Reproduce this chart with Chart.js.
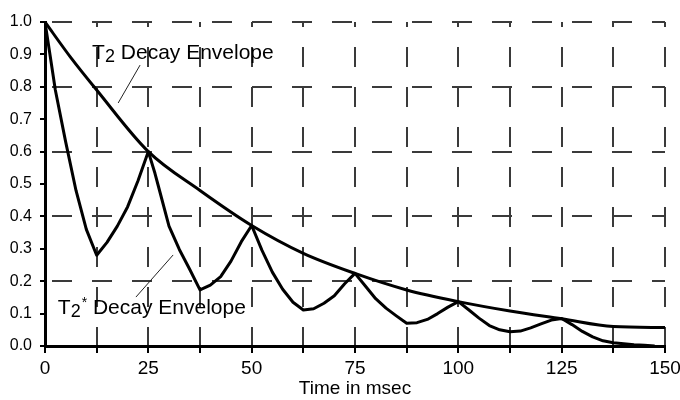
<!DOCTYPE html>
<html>
<head>
<meta charset="utf-8">
<script src="https://cdn.jsdelivr.net/npm/chart.js@4.4.1/dist/chart.umd.min.js"></script>
<style>
  html, body { margin: 0; padding: 0; background: #fff; }
</style>
</head>
<body>
<canvas id="decayChart" width="680" height="400"></canvas>
<script>
// T2 envelope
const envTime  = [0, 6.25, 12.5, 25, 37.5, 50, 62.5, 75, 87.5, 100, 112.5, 125, 137.5, 150];
const envValue = [1.0, 0.89, 0.79, 0.6, 0.48, 0.372, 0.286, 0.224, 0.173, 0.137, 0.108, 0.084, 0.06, 0.057];

// T2* signal (echo train)
const starTime  = [0, 1.2, 2.5, 5, 7.5, 10, 12.5, 15, 17.5, 20, 22.5, 25,
                   26.6, 27.5, 30, 32.5, 35, 37.5, 40, 42.5, 45, 47.5, 50,
                   52.5, 55, 57.5, 60, 62.5, 65, 67.5, 70, 72.5, 75,
                   77.5, 80, 82.5, 85, 87.5, 90, 92.5, 95, 97.5, 100,
                   102.5, 105, 107.5, 110, 112.5, 115, 117.5, 120, 122.5, 125,
                   127.5, 130, 132.5, 135, 137.5, 140, 142.5, 145, 147.5];
const starValue = [1.0, 0.9, 0.79, 0.63, 0.48, 0.36, 0.28, 0.32, 0.37, 0.43, 0.51, 0.6,
                   0.533, 0.49, 0.37, 0.298, 0.237, 0.173, 0.188, 0.214, 0.262, 0.322, 0.372,
                   0.295, 0.228, 0.175, 0.135, 0.111, 0.115, 0.132, 0.155, 0.192, 0.224,
                   0.185, 0.146, 0.117, 0.093, 0.07, 0.072, 0.082, 0.1, 0.12, 0.137,
                   0.112, 0.086, 0.063, 0.05, 0.044, 0.046, 0.056, 0.068, 0.08, 0.085,
                   0.066, 0.045, 0.028, 0.016, 0.01, 0.007, 0.004, 0.002, 0];

const xLabelTicks = [0, 25, 50, 75, 100, 125, 150];

// callout labels: text anchor and leader line, in data units
const labelNotes = [
  { star: false, at: [11.4, 0.904], from: [23.0, 0.867], to: [17.7, 0.75] },
  { star: true,  at: [3.1, 0.117],  from: [22.0, 0.151], to: [31.0, 0.281] }
];

const FONT = '"Liberation Sans", Arial, sans-serif';

const toPoints = (xs, ys) => xs.map((t, i) => ({ x: t, y: ys[i] }));

const labelPlugin = {
  id: 'decayLabels',
  afterDatasetsDraw(chart) {
    const { ctx } = chart;
    const xs = chart.scales.x;
    const ys = chart.scales.y;
    ctx.save();
    ctx.fillStyle = '#000';
    ctx.strokeStyle = '#222';
    ctx.lineWidth = 1;
    ctx.textBaseline = 'middle';
    ctx.textAlign = 'left';
    labelNotes.forEach(note => {
      ctx.beginPath();
      ctx.moveTo(xs.getPixelForValue(note.from[0]), ys.getPixelForValue(note.from[1]));
      ctx.lineTo(xs.getPixelForValue(note.to[0]), ys.getPixelForValue(note.to[1]));
      ctx.stroke();

      let px = xs.getPixelForValue(note.at[0]);
      const py = ys.getPixelForValue(note.at[1]);
      ctx.font = '21px ' + FONT;
      ctx.fillText('T', px, py);
      px += ctx.measureText('T').width;
      ctx.font = '18px ' + FONT;
      ctx.fillText('2', px, py + 4);
      px += ctx.measureText('2').width;
      if (note.star) {
        ctx.font = '14px ' + FONT;
        ctx.fillText('*', px + 1, py - 5);
        px += ctx.measureText('*').width + 1;
      }
      ctx.font = '21px ' + FONT;
      ctx.fillText(' Decay Envelope', px, py);
    });
    ctx.restore();
  }
};

const ctx = document.getElementById('decayChart').getContext('2d');
const decayChart = new Chart(ctx, {
  type: 'line',
  data: {
    datasets: [
      {
        label: 'T2 Decay Envelope',
        data: toPoints(envTime, envValue),
        borderColor: '#000',
        borderWidth: 3,
        cubicInterpolationMode: 'monotone',
        pointRadius: 0,
        fill: false,
      },
      {
        label: 'T2* Decay Envelope',
        data: toPoints(starTime, starValue),
        borderColor: '#000',
        borderWidth: 3,
        borderJoinStyle: 'round',
        tension: 0,
        pointRadius: 0,
        fill: false,
      }
    ]
  },
  options: {
    responsive: false,
    animation: false,
    layout: { padding: { top: 22, right: 15, left: 0, bottom: 0 } },
    plugins: {
      legend: { display: false },
      tooltip: { enabled: false },
    },
    scales: {
      x: {
        type: 'linear',
        min: 0,
        max: 150,
        afterFit: (scale) => {
          scale.height = 54;
          scale.paddingRight = 0;
          scale.paddingLeft = 0;
        },
        ticks: {
          stepSize: 12.5,
          maxRotation: 0,
          autoSkip: false,
          padding: 4,
          color: '#000',
          font: { family: FONT, size: 19 },
          callback: (v) => xLabelTicks.includes(v) ? String(v) : '',
        },
        grid: {
          color: (c) => (c.tick && c.tick.value === 0) ? 'rgba(0,0,0,0)' : '#3a3a3a',
          lineWidth: 2,
          tickColor: '#000',
          tickWidth: 2,
          tickLength: 7,
        },
        border: { display: true, color: '#000', width: 3, dash: [20, 20], dashOffset: 15 },
        title: {
          display: true,
          text: 'Time in msec',
          color: '#000',
          font: { family: FONT, size: 19 },
          padding: { top: 0, bottom: 0 },
        },
      },
      y: {
        min: 0,
        max: 1.0,
        afterFit: (scale) => {
          scale.width = 45;
          scale.paddingTop = 0;
          scale.paddingBottom = 0;
        },
        ticks: {
          stepSize: 0.1,
          padding: 8,
          color: '#000',
          font: { family: FONT, size: 16 },
          callback: (v) => Number(v).toFixed(1),
        },
        grid: {
          color: (c) => {
            if (!c.tick) return '#3a3a3a';
            const k = Math.round(c.tick.value * 10);
            return (k === 0 || k % 2 !== 0) ? 'rgba(0,0,0,0)' : '#3a3a3a';
          },
          lineWidth: 2,
          tickColor: '#000',
          tickWidth: 2,
          tickLength: 5,
        },
        border: { display: true, color: '#000', width: 3, dash: [20, 20], dashOffset: 35 },
      },
    },
  },
  plugins: [labelPlugin],
});
</script>
</body>
</html>
